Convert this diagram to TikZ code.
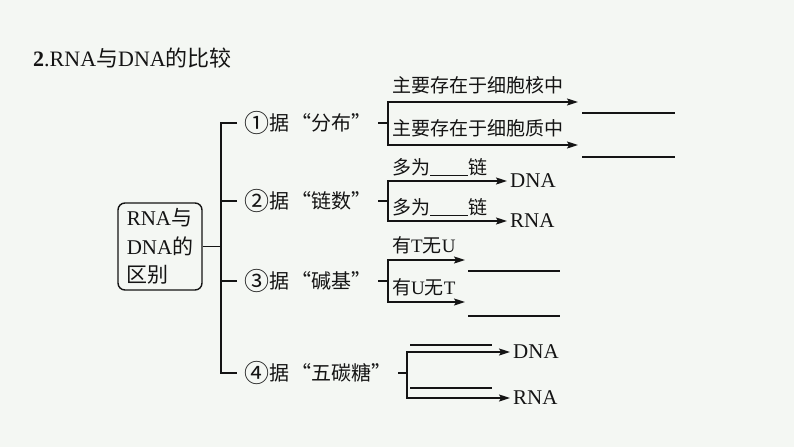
\documentclass[tikz,border=0pt]{standalone}
\usepackage{fontspec}
\usepackage{graphicx}
\setmainfont{Liberation Serif}
\newfontfamily\cjk{Noto Sans CJK SC}
\usetikzlibrary{arrows.meta}
\newcommand\zh[1]{{\cjk #1}}
\newcommand\circnum[1]{\raisebox{-0.12em}{\scalebox{1.25}{\cjk #1}}}
\definecolor{bgc}{RGB}{244,247,243}
\definecolor{ink}{RGB}{20,20,20}
\begin{document}
\begin{tikzpicture}[x=1pt,y=-1pt,
  ln/.style={line width=1.4pt, draw=ink},
  arr/.style={ln,-{Stealth[length=11pt,width=7pt,inset=2pt]}},
  blank/.style={line width=1.2pt, draw=ink},
  lab/.style={font=\fontsize{20}{24}\selectfont, inner xsep=7pt, inner ysep=2pt, anchor=west, text=ink},
  sm/.style={font=\fontsize{19}{22}\selectfont, inner sep=0pt, anchor=west, text=ink},
  big/.style={font=\fontsize{21}{24}\selectfont, inner xsep=3pt, inner ysep=0pt, anchor=west, text=ink},
  box/.style={ln, rounded corners=7pt, minimum width=84pt, minimum height=87pt, align=left,
    font=\fontsize{21}{28.5}\selectfont, inner xsep=8pt, text=ink}]
\useasboundingbox (0,0) rectangle (794,447);
\fill[bgc] (0,0) rectangle (794,447);

% title
\node[anchor=west, font=\fontsize{22}{26}\selectfont, inner sep=0pt, text=ink] (title) at (33,58)
  {\textbf{2}.RNA\zh{与}DNA\zh{的比较}};

% root box
\node[box] (root) at (160,246.5) {RNA\zh{与}\\DNA\zh{的}\\\zh{区别}};

% level-1 labels
\node[lab] (l1) at (237,123) {\circnum{①}\zh{据\hspace{2pt}“分布”}};
\node[lab] (l2) at (237,201) {\circnum{②}\zh{据\hspace{2pt}“链数”}};
\node[lab] (l3) at (237,281) {\circnum{③}\zh{据\hspace{2pt}“碱基”}};
\node[lab] (l4) at (237,373) {\circnum{④}\zh{据\hspace{2pt}“五碳糖”}};

\coordinate (bx) at (221,246.5);
\draw[ln] (root.east) -- (bx);
\draw[ln] (l1.west) -- (l1.west -| bx) -- (l4.west -| bx) -- (l4.west);
\draw[ln] (l2.west) -- (l2.west -| bx);
\draw[ln] (l3.west) -- (l3.west -| bx);

% group 1
\coordinate (v1) at (388,123);
\coordinate (e1a) at (578,102);
\coordinate (e1b) at (578,145);
\draw[ln] (l1.east) -- (v1);
\draw[arr] (v1) |- (e1a);
\draw[arr] (v1) |- (e1b);
\node[sm] (t1a) at (392,85) {\zh{主要存在于细胞核中}};
\node[sm] (t1b) at (392,128) {\zh{主要存在于细胞质中}};
\draw[blank] (582,113) -- (675,113);
\draw[blank] (582,157) -- (675,157);

% group 2
\coordinate (v2) at (388,201);
\node[big] (d2) at (507,181) {DNA};
\node[big] (r2) at (507,221) {RNA};
\draw[ln] (l2.east) -- (v2);
\draw[arr] (v2) |- (d2.west);
\draw[arr] (v2) |- (r2.west);
\node[sm] (t2a) at (392,167) {\zh{多为}\rule[-1.5pt]{38pt}{1pt}\zh{链}};
\node[sm] (t2b) at (392,207) {\zh{多为}\rule[-1.5pt]{38pt}{1pt}\zh{链}};

% group 3
\coordinate (v3) at (388,281);
\coordinate (e3a) at (465,260);
\coordinate (e3b) at (465,302);
\draw[ln] (l3.east) -- (v3);
\draw[arr] (v3) |- (e3a);
\draw[arr] (v3) |- (e3b);
\node[sm] (t3a) at (392,245) {\zh{有}T\zh{无}U};
\node[sm] (t3b) at (392,287) {\zh{有}U\zh{无}T};
\draw[blank] (468,271) -- (560,271);
\draw[blank] (468,316) -- (560,316);

% group 4
\coordinate (v4) at (407,373);
\node[big] (d4) at (510,352) {DNA};
\node[big] (r4) at (510,398) {RNA};
\draw[ln] (l4.east) -- (v4);
\draw[arr] (v4) |- (d4.west);
\draw[arr] (v4) |- (r4.west);
\draw[blank] (410,345) -- (492,345);
\draw[blank] (410,388) -- (492,388);
\end{tikzpicture}
\end{document}
